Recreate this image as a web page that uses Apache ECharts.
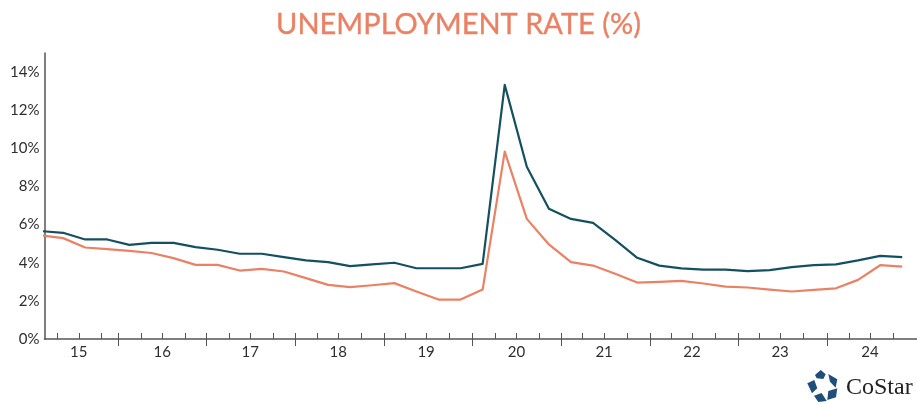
<!DOCTYPE html>
<html>
<head>
<meta charset="utf-8">
<style>html,body{margin:0;padding:0;background:#fff}#chart{width:917px;height:404px}</style>
<script src="https://cdn.jsdelivr.net/npm/echarts@6/dist/echarts.min.js"></script>
</head>
<body>
<div id="chart"></div>
<script>
// Quarterly readings, oldest first; x is the quarter's position along the axis.
const quarterIndex = [0,1,2,3,4,5,6,7,8,9,10,11,12,13,14,15,16,17,18,19,20,21,22,23,24,25,26,27,28,29,30,31,32,33,34,35,36,37,38,39];
const nationalRate = [5.66,5.57,5.22,5.22,4.94,5.04,5.04,4.82,4.68,4.47,4.47,4.29,4.12,4.03,3.82,3.91,4,3.71,3.71,3.71,3.94,13.33,9.03,6.83,6.3,6.09,5.2,4.26,3.85,3.7,3.64,3.64,3.56,3.61,3.77,3.87,3.91,4.12,4.36,4.29];
const metroRate = [5.43,5.29,4.8,4.71,4.62,4.51,4.24,3.89,3.89,3.59,3.68,3.54,3.19,2.84,2.72,2.82,2.93,2.49,2.07,2.07,2.59,9.83,6.3,4.96,4.03,3.85,3.42,2.96,3,3.05,2.91,2.75,2.7,2.59,2.49,2.58,2.66,3.1,3.87,3.8];

// Axis furniture
const yearLabels = ['15','16','17','18','19','20','21','22','23','24'];
const yearLabelTicks = [1.71,5.49,9.47,13.46,17.44,21.53,25.5,29.48,33.47,37.54];
const yearBoundaryTicks = [3.5,7.5,11.5,15.54,19.52,23.56,27.58,31.57,35.6];
const quarterTicks = [0.74,1.71,2.75,4.54,5.49,6.54,8.51,9.47,10.52,12.5,13.46,14.49,16.49,17.44,18.48,20.56,21.53,22.55,24.53,25.5,26.54,28.53,29.48,30.53,32.52,33.47,34.51,36.59,37.54,38.59];
const rateTicks = [0,2,4,6,8,10,12,14];

const AXIS_COLOR = '#555555';
const TEXT_COLOR = '#2e2e2e';
const FONT = 'Lato, sans-serif';
const X_MIN = 0.158;
const X_MAX = 39.67;
const pair = arr => quarterIndex.map((q, i) => [q, arr[i]]);
const line = (name, arr, color) => ({
  name, type: 'line', data: pair(arr), clip: false, showSymbol: false, smooth: false,
  lineStyle: { color, width: 2.2, join: 'round' }
});

// The star mark next to the wordmark
const LOGO_BLUE = '#1f4e79';
const logoPieces = [
  [[815,375],[820.7,370],[825.7,374.3],[823.3,379],[816.7,378.3]],
  [[828.3,374],[837.3,379.3],[835.7,387.7],[830,381.7]],
  [[828.3,391],[837.3,388.3],[836,397.3],[827.3,400]],
  [[814,395.7],[821.7,393],[826.7,401],[818.3,402]],
  [[807.3,383.3],[814.3,380],[817.3,388.3],[812,393.3]]
];

const chart = echarts.init(document.getElementById('chart'), null, { renderer: 'canvas' });
chart.setOption({
  animation: false,
  backgroundColor: '#ffffff',
  title: {
    text: 'UNEMPLOYMENT RATE (%)', left: 'center', top: 5,
    textStyle: {
      color: '#ea8165', fontFamily: FONT, fontSize: 29, fontWeight: 'normal',
      textBorderColor: '#ea8165', textBorderWidth: 0.35
    }
  },
  grid: { left: 44.5, right: 0, top: 53, bottom: 65 },
  xAxis: [
    {
      type: 'value', min: X_MIN, max: X_MAX, position: 'bottom', splitLine: { show: false },
      axisLine: { lineStyle: { color: AXIS_COLOR, width: 1.5 } },
      axisTick: { inside: true, length: 6, customValues: quarterTicks.concat(yearBoundaryTicks), lineStyle: { color: AXIS_COLOR, width: 1 } },
      axisLabel: {
        customValues: yearLabelTicks, margin: 6, color: TEXT_COLOR, fontFamily: FONT, fontSize: 15,
        formatter: v => yearLabels[yearLabelTicks.indexOf(v)]
      }
    },
    {
      type: 'value', min: X_MIN, max: X_MAX, position: 'bottom', splitLine: { show: false },
      axisLine: { show: false },
      axisTick: { inside: false, length: 7, customValues: yearBoundaryTicks, lineStyle: { color: AXIS_COLOR, width: 1 } },
      axisLabel: { show: false }
    }
  ],
  yAxis: {
    type: 'value', min: 0, max: 15, splitLine: { show: false },
    axisLine: { show: true, lineStyle: { color: AXIS_COLOR, width: 1.5 } },
    axisTick: { show: false },
    axisLabel: {
      customValues: rateTicks, margin: 5, color: TEXT_COLOR, fontFamily: FONT, fontSize: 15,
      formatter: v => v + '%', padding: [0, 0, 5, 0]
    }
  },
  series: [line('Metro', metroRate, '#ea8165'), line('National', nationalRate, '#14505f')],
  graphic: logoPieces.map(points => ({
    type: 'polygon', shape: { points }, style: { fill: LOGO_BLUE }
  })).concat([{
    type: 'text', left: 846, top: 376,
    style: { text: 'CoStar', fill: '#222222', font: '24px "Liberation Serif", serif' }
  }])
});
</script>
</body>
</html>
